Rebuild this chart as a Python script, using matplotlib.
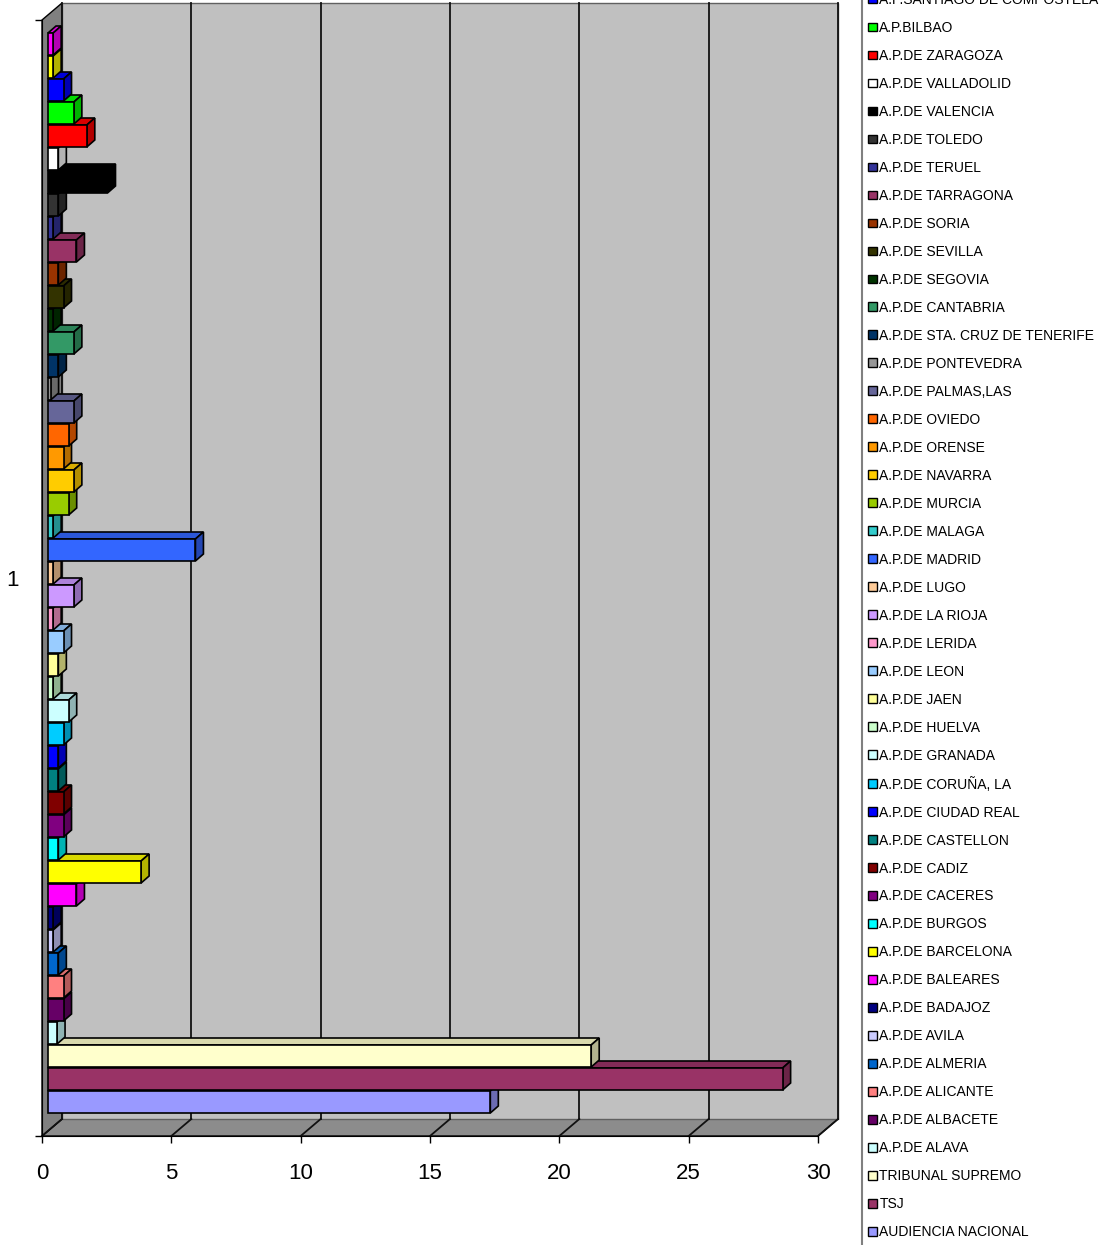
import numpy as np
import matplotlib.pyplot as plt
import matplotlib.patches as mpatches
from matplotlib.colors import to_rgb
from matplotlib.lines import Line2D

plt.rcParams['font.family'] = ['Liberation Sans', 'DejaVu Sans']

# series, bottom bar first (the chart lists them reversed)
names = ["AUDIENCIA NACIONAL", "TSJ", "TRIBUNAL SUPREMO", "A.P.DE ALAVA",
         "A.P.DE ALBACETE", "A.P.DE ALICANTE", "A.P.DE ALMERIA", "A.P.DE AVILA",
         "A.P.DE BADAJOZ", "A.P.DE BALEARES", "A.P.DE BARCELONA", "A.P.DE BURGOS",
         "A.P.DE CACERES", "A.P.DE CADIZ", "A.P.DE CASTELLON", "A.P.DE CIUDAD REAL",
         "A.P.DE CORUÑA, LA", "A.P.DE GRANADA", "A.P.DE HUELVA", "A.P.DE JAEN",
         "A.P.DE LEON", "A.P.DE LERIDA", "A.P.DE LA RIOJA", "A.P.DE LUGO",
         "A.P.DE MADRID", "A.P.DE MALAGA", "A.P.DE MURCIA", "A.P.DE NAVARRA",
         "A.P.DE ORENSE", "A.P.DE OVIEDO", "A.P.DE PALMAS,LAS", "A.P.DE PONTEVEDRA",
         "A.P.DE STA. CRUZ DE TENERIFE", "A.P.DE CANTABRIA", "A.P.DE SEGOVIA",
         "A.P.DE SEVILLA", "A.P.DE SORIA", "A.P.DE TARRAGONA", "A.P.DE TERUEL",
         "A.P.DE TOLEDO", "A.P.DE VALENCIA", "A.P.DE VALLADOLID", "A.P.DE ZARAGOZA",
         "A.P.BILBAO", "A.P.SANTIAGO DE COMPOSTELA", None, None]

values = [17.1, 28.4, 21.0, 0.35, 0.6, 0.6, 0.4, 0.2, 0.2, 1.1, 3.6, 0.4,
          0.6, 0.6, 0.4, 0.4, 0.6, 0.8, 0.2, 0.4, 0.6, 0.2, 1.0, 0.2,
          5.7, 0.2, 0.8, 1.0, 0.6, 0.8, 1.0, 0.1, 0.4, 1.0, 0.2, 0.6,
          0.4, 1.1, 0.2, 0.4, 2.3, 0.4, 1.5, 1.0, 0.6, 0.2, 0.2]

colors = ["#9999FF", "#993366", "#FFFFCC", "#CCFFFF", "#660066", "#FF8080",
          "#0066CC", "#CCCCFF", "#000080", "#FF00FF", "#FFFF00", "#00FFFF",
          "#800080", "#800000", "#008080", "#0000FF", "#00CCFF", "#CCFFFF",
          "#CCFFCC", "#FFFF99", "#99CCFF", "#FF99CC", "#CC99FF", "#FFCC99",
          "#3366FF", "#33CCCC", "#99CC00", "#FFCC00", "#FF9900", "#FF6600",
          "#666699", "#969696", "#003366", "#339966", "#003300", "#333300",
          "#993300", "#993366", "#333399", "#333333", "#000000", "#FFFFFF",
          "#FF0000", "#00FF00", "#0000FF", "#FFFF00", "#FF00FF"]

xticks = [0, 5, 10, 15, 20, 25, 30]
ylabel_cat = "1"

W, H = 1109, 1245
fig = plt.figure(figsize=(W / 100, H / 100), dpi=100)

# front plane of the fake 3d box
ax = fig.add_axes([42 / W, (H - 1136) / H, (818 - 42) / W, (1136 - 20) / H])
ppx = (818 - 42) / 30.0      # pixels per value unit
ppy = 23.0                   # pixels per category
yb = -(1136 - 1102) / ppy
yt = yb + (1136 - 20) / ppy
ax.set_xlim(0, 30)
ax.set_ylim(yb, yt)

dxw, dyw = 20 / ppx, 17 / ppy     # wall depth
bx0 = 6 / ppx                     # bar front offset
bdx, bdy = 8 / ppx, 7 / ppy       # bar depth
bh = 22 / ppy
lw = 1.2

def shade(c, f):
    return tuple(np.array(to_rgb(c)) * f)

# walls and floor
floor = mpatches.Polygon([(0, yb), (30, yb), (30 + dxw, yb + dyw), (dxw, yb + dyw)],
                         closed=True, fc="#8c8c8c", ec="black", lw=1, clip_on=False, zorder=0)
ax.add_patch(floor)
left = mpatches.Polygon([(0, yb), (dxw, yb + dyw), (dxw, yt + dyw), (0, yt)],
                        closed=True, fc="#808080", ec="black", lw=1, clip_on=False, zorder=0)
ax.add_patch(left)
back = mpatches.Rectangle((dxw, yb + dyw), 30, yt - yb, fc="#c0c0c0", ec="#606060",
                          lw=1, clip_on=False, zorder=0)
ax.add_patch(back)
for v in xticks:
    ax.plot([v + dxw, v + dxw], [yb + dyw, yt + dyw], color="#111111", lw=1.3,
            clip_on=False, zorder=1)
    ax.plot([v, v + dxw], [yb, yb + dyw], color="#111111", lw=1.3, clip_on=False, zorder=1)

# bars, bottom ones first so upper bars cover their top faces
ypos = np.arange(len(values))
fronts = ax.barh(ypos, values, left=bx0, height=bh, color=colors, edgecolor="black", lw=lw)
for i, (v, c) in enumerate(zip(values, colors)):
    x0, x1 = bx0, bx0 + v
    y0, y1 = ypos[i] - bh / 2, ypos[i] + bh / 2
    top = mpatches.Polygon([(x0, y1), (x1, y1), (x1 + bdx, y1 + bdy), (x0 + bdx, y1 + bdy)],
                           closed=True, fc=shade(c, 0.85), ec="black", lw=lw,
                           clip_on=False, zorder=2 + 3 * i)
    side = mpatches.Polygon([(x1, y0), (x1 + bdx, y0 + bdy), (x1 + bdx, y1 + bdy), (x1, y1)],
                            closed=True, fc=shade(c, 0.7), ec="black", lw=lw,
                            clip_on=False, zorder=2 + 3 * i)
    ax.add_patch(top)
    ax.add_patch(side)
    fronts.patches[i].set_zorder(3 + 3 * i)
    fronts.patches[i].set_clip_on(False)

ax.set_facecolor("none")
for s in ["top", "right"]:
    ax.spines[s].set_visible(False)
ax.spines["left"].set_zorder(500)
ax.spines["bottom"].set_zorder(500)

ax.set_xticks(xticks)
ax.tick_params(axis="x", direction="out", length=5, width=1, pad=14.5, labelsize=16)
ax.set_yticks([yb, yt], labels=["", ""])
ax.tick_params(axis="y", which="major", direction="out", length=5, width=1)
ax.set_yticks([(yb + yt) / 2], labels=[ylabel_cat], minor=True)
ax.tick_params(axis="y", which="minor", length=0, pad=17, labelsize=16)

# legend, top to bottom as in the chart; the top rows fall off the picture
handles, labels = [], []
for i in range(len(values) - 1, -1, -1):
    if names[i] is None:
        continue
    handles.append(mpatches.Patch(fc=colors[i], ec="black", lw=1))
    labels.append(names[i])
leg = fig.legend(handles, labels, loc="upper left", bbox_to_anchor=(862 / W, 1 + 13.3 / H),
                 borderaxespad=0, fontsize=10, frameon=False,
                 handlelength=0.6, handleheight=0.6,
                 handletextpad=0.2, borderpad=0.45, labelspacing=1.007)
fig.add_artist(Line2D([862 / W, 862 / W], [0, 1], color="#808080", lw=1.5,
                      transform=fig.transFigure))

fig.savefig("out.png", dpi=100)
